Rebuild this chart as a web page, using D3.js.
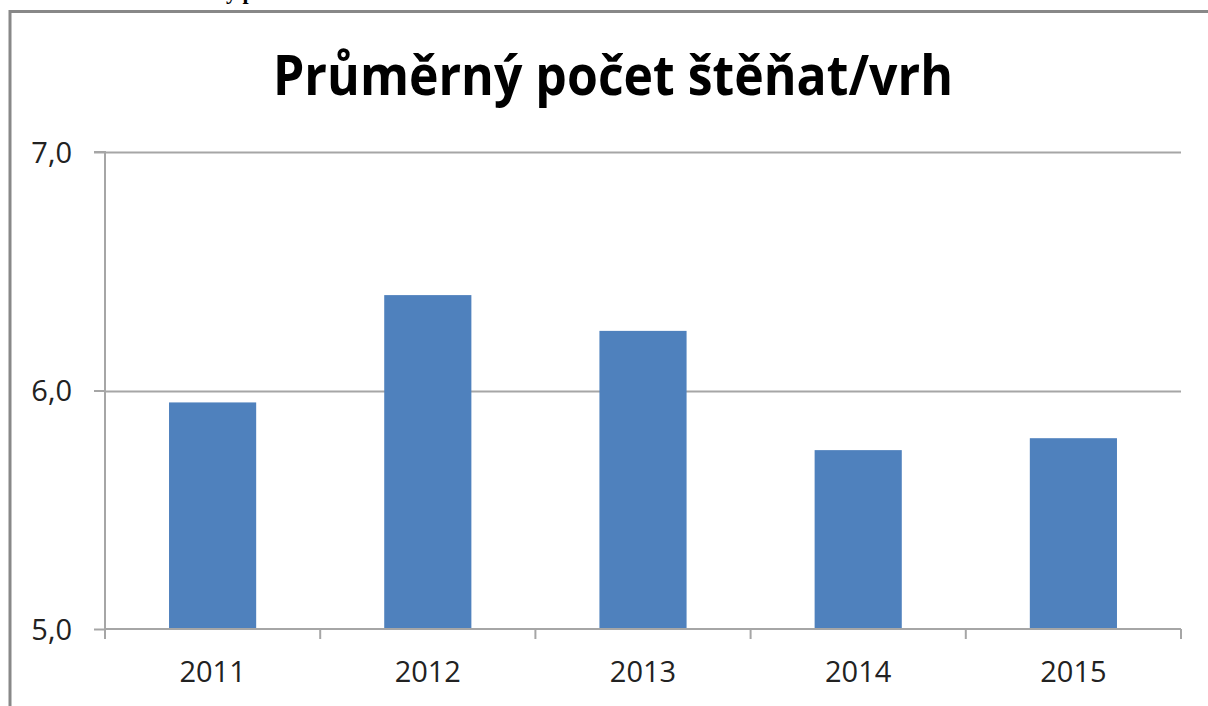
<!DOCTYPE html>
<html><head><meta charset="utf-8">
<script src="https://cdn.jsdelivr.net/npm/d3@7"></script>
<style>html,body{margin:0;padding:0;background:#fff;overflow:hidden}</style>
</head><body>
<script>
const categories = ["2011","2012","2013","2014","2015"];
const values = [5.95, 6.40, 6.25, 5.75, 5.80];
const yTicks = [5, 6, 7];
const yTickLabels = ["5,0","6,0","7,0"];
const title = "Průměrný počet štěňat/vrh";

const W = 1208, H = 706;
const svg = d3.select("body").append("svg").attr("width", W).attr("height", H);

// cut-off heading above the frame
svg.append("text").attr("x", 226).attr("y", -1)
  .attr("font-family", "Liberation Serif").attr("font-weight", "bold").attr("font-size", 22)
  .attr("fill", "#000").text("ý p");

// frame
svg.append("path").attr("d", `M10,${H+5} L10,11.5 L${W+5},11.5`)
  .attr("fill", "none").attr("stroke", "#888").attr("stroke-width", 3);

const x0 = 105, x1 = 1181, yTop = 152, yBase = 629;
const x = d3.scaleBand().domain(categories).range([x0, x1]).paddingInner(0.595).paddingOuter(0.2975);
const xb = d3.scaleBand().domain(categories).range([x0, x1]);
const y = d3.scaleLinear().domain([5, 7]).range([yBase, yTop]);

// gridlines
svg.append("g").selectAll("line").data(yTicks.slice(1)).join("line")
  .attr("x1", x0).attr("x2", x1).attr("y1", d => Math.round(y(d)) + 0.5).attr("y2", d => Math.round(y(d)) + 0.5)
  .attr("stroke", "#a6a6a6").attr("stroke-width", 2);

// bars
svg.append("g").selectAll("rect").data(values).join("rect")
  .attr("x", (d, i) => x(categories[i])).attr("width", x.bandwidth())
  .attr("y", d => y(d)).attr("height", d => yBase - y(d))
  .attr("fill", "#4f81bd");

// y axis
const yAxis = d3.axisLeft(y).tickValues(yTicks).tickSize(11).tickPadding(22)
  .tickFormat((d, i) => yTickLabels[i]);
const gy = svg.append("g").attr("transform", `translate(${x0},0)`).call(yAxis);
gy.select(".domain").attr("stroke", "#a6a6a6").attr("stroke-width", 2).attr("d", `M-11,${yTop}H0V${yBase}`);
gy.selectAll(".tick line").attr("stroke", "#a6a6a6").attr("stroke-width", 2);
gy.selectAll(".tick text").attr("font-family", "Open Sans").attr("font-size", 29).attr("fill", "#222").attr("dy", "0.35em");

// x axis
const gx = svg.append("g").attr("transform", `translate(0,${yBase})`);
gx.append("line").attr("x1", x0).attr("x2", x1).attr("y1", 0).attr("y2", 0).attr("stroke", "#a6a6a6").attr("stroke-width", 2);
const bounds = categories.map(c => xb(c)).concat([x1]);
gx.selectAll("line.t").data(bounds).join("line").attr("class", "t")
  .attr("x1", d => d).attr("x2", d => d).attr("y1", 0).attr("y2", 10)
  .attr("stroke", "#a6a6a6").attr("stroke-width", 2);
gx.selectAll("text").data(categories).join("text")
  .attr("x", d => xb(d) + xb.bandwidth() / 2).attr("y", 53)
  .attr("text-anchor", "middle").attr("font-family", "Open Sans").attr("font-size", 29).attr("fill", "#222")
  .text(d => d);

// title
svg.append("text").attr("x", 613).attr("y", 95).attr("text-anchor", "middle")
  .attr("font-family", "Open Sans").attr("font-weight", "bold").attr("font-size", 56)
  .attr("textLength", 680).attr("lengthAdjust", "spacingAndGlyphs")
  .attr("fill", "#000").text(title);
</script>
</body></html>
